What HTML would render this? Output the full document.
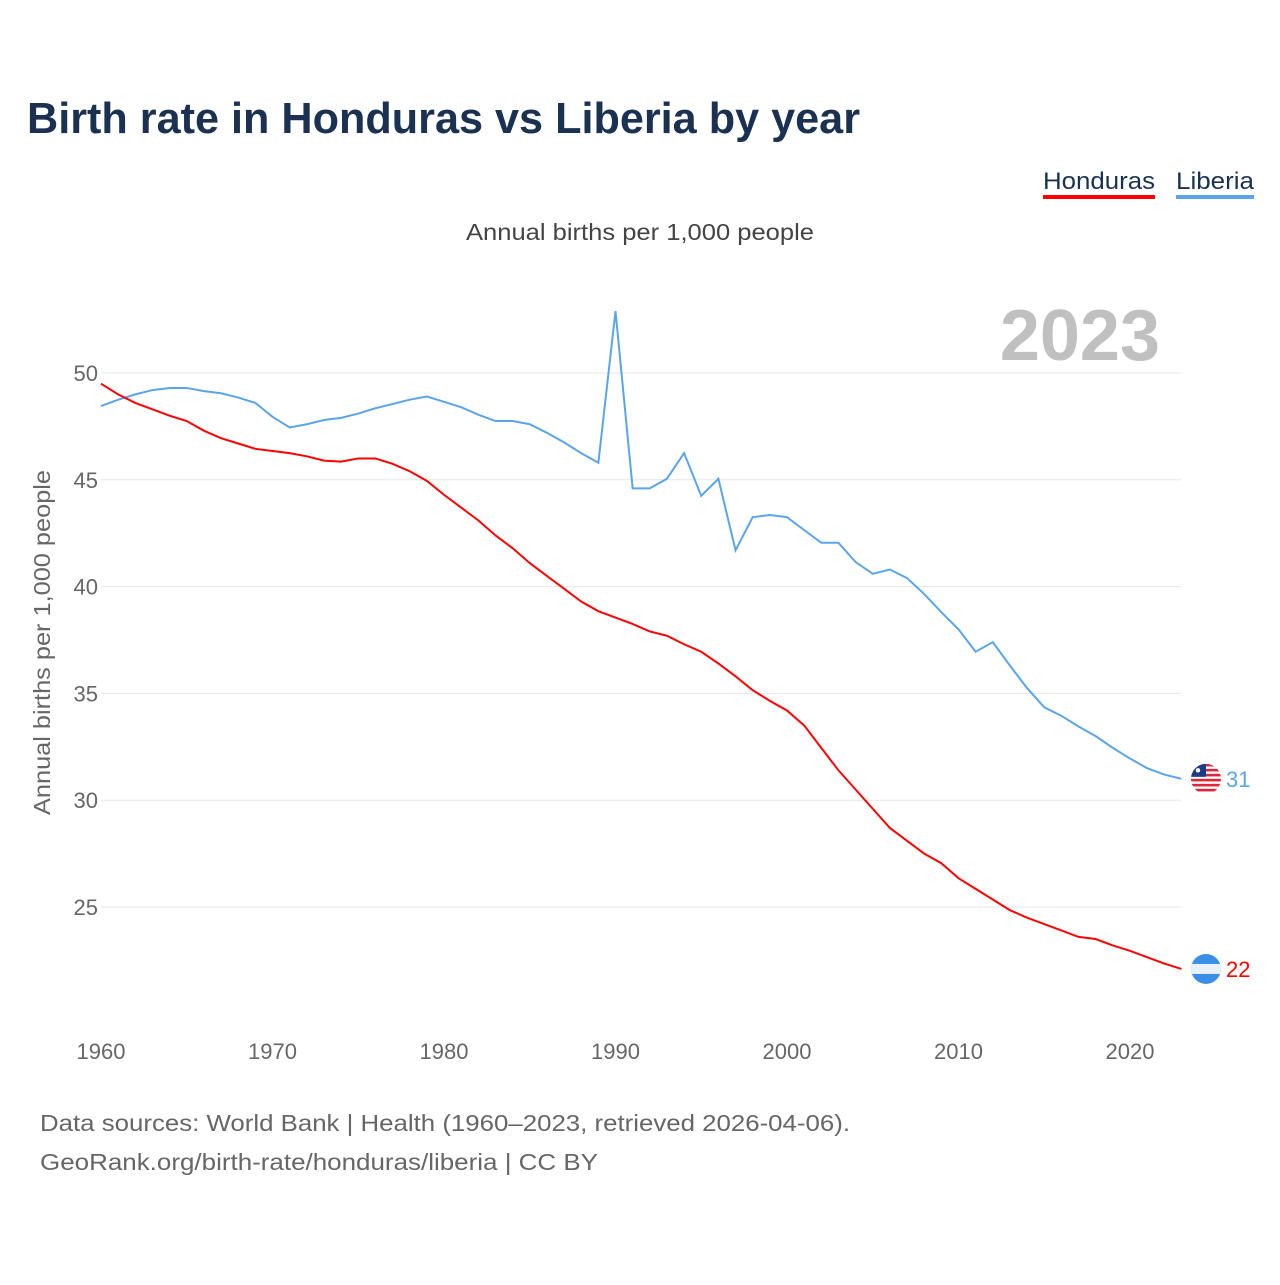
<!DOCTYPE html>
<html><head><meta charset="utf-8"><style>
body{margin:0;background:#fff;font-family:"Liberation Sans",sans-serif}
svg text{font-family:"Liberation Sans",sans-serif}
</style></head><body>
<svg id="chart" width="1280" height="1280" xmlns="http://www.w3.org/2000/svg">
<defs><clipPath id="clipL"><circle cx="1206" cy="0" r="15" id="clipLc"/></clipPath><clipPath id="clipH"><circle cx="1206" cy="0" r="15" id="clipHc"/></clipPath></defs>
<text x="27" y="133" font-size="44" font-weight="bold" fill="#1a3152" textLength="833" lengthAdjust="spacingAndGlyphs">Birth rate in Honduras vs Liberia by year</text>
<g><text x="1043" y="189" font-size="24" fill="#1a3152" textLength="112" lengthAdjust="spacingAndGlyphs">Honduras</text><rect x="1043" y="195" width="112" height="4" fill="#ff0000"/></g>
<g><text x="1176" y="189" font-size="24" fill="#1a3152" textLength="78" lengthAdjust="spacingAndGlyphs">Liberia</text><rect x="1176" y="195" width="78" height="4" fill="#5aa5ea"/></g>
<text x="466" y="240" font-size="23" fill="#444" textLength="348" lengthAdjust="spacingAndGlyphs">Annual births per 1,000 people</text>
<text x="1160" y="360" font-size="72" font-weight="bold" fill="#c0c0c0" text-anchor="end">2023</text>
<text transform="translate(50,815) rotate(-90)" font-size="23" fill="#666" textLength="345" lengthAdjust="spacingAndGlyphs">Annual births per 1,000 people</text>
<g id="grid"></g><g id="series"></g>
<text x="40" y="1131" font-size="23" fill="#666" textLength="810" lengthAdjust="spacingAndGlyphs">Data sources: World Bank | Health (1960–2023, retrieved 2026-04-06).</text>
<text x="40" y="1170" font-size="23" fill="#666" textLength="558" lengthAdjust="spacingAndGlyphs">GeoRank.org/birth-rate/honduras/liberia | CC BY</text>
</svg>
<script>
const years=[];for(let y=1960;y<=2023;y++)years.push(y);
const honduras=[49.5,49.0,48.6,48.3,48.0,47.75,47.3,46.95,46.7,46.45,46.35,46.25,46.1,45.9,45.85,46.0,46.0,45.75,45.4,44.95,44.3,43.7,43.1,42.4,41.8,41.1,40.5,39.9,39.3,38.85,38.55,38.25,37.9,37.7,37.3,36.95,36.4,35.8,35.15,34.65,34.2,33.5,32.45,31.4,30.5,29.6,28.7,28.1,27.5,27.05,26.35,25.85,25.35,24.85,24.5,24.2,23.9,23.6,23.5,23.2,22.95,22.65,22.35,22.1];
const liberia=[48.45,48.75,49.0,49.2,49.3,49.3,49.15,49.05,48.85,48.6,47.95,47.45,47.6,47.8,47.9,48.1,48.35,48.55,48.75,48.9,48.65,48.4,48.05,47.75,47.75,47.6,47.2,46.75,46.25,45.8,52.9,44.6,44.6,45.05,46.25,44.25,45.05,41.7,43.25,43.35,43.25,42.65,42.05,42.05,41.15,40.6,40.8,40.4,39.65,38.8,38.0,36.95,37.4,36.3,35.25,34.35,33.95,33.45,33.0,32.45,31.95,31.5,31.2,31.0];
const yTicks=[25,30,35,40,45,50];
const xTicks=[1960,1970,1980,1990,2000,2010,2020];
const X=y=>101+(y-1960)*(1029/60);
const Y=v=>907-(v-25)*(534/25);
const NS="http://www.w3.org/2000/svg";
function mk(t,a,p){const e=document.createElementNS(NS,t);for(const k in a)e.setAttribute(k,a[k]);p.appendChild(e);return e;}
const grid=document.getElementById('grid'),ser=document.getElementById('series');
yTicks.forEach(v=>{
 const l=mk('line',{x1:101,x2:1181,y1:Y(v),y2:Y(v),stroke:'#e6e6e6','stroke-width':1},grid);
 
 
 const t=mk('text',{x:98,y:Y(v)+8,'font-size':22,fill:'#666','text-anchor':'end'},grid);t.textContent=v;
 
 
});
xTicks.forEach(v=>{
 const t=mk('text',{x:X(v),y:1059,'font-size':22,fill:'#666','text-anchor':'middle'},grid);t.textContent=v;
 
 
});
function line(data,color,name){
 const p=mk('polyline',{points:data.map((v,i)=>X(years[i])+','+Y(v)).join(' '),fill:'none',stroke:color,'stroke-width':2},ser);
 
 
 const last=data[data.length-1],cx=1206,cy=Y(last);
 const g=mk('g',{},ser);
 
 
 if(name==='liberia'){
  document.getElementById('clipLc').setAttribute('cy',cy);
  g.setAttribute('clip-path','url(#clipL)');
  mk('rect',{x:cx-15,y:cy-15,width:30,height:30,fill:'#fff'},g);
  for(let k=0;k<6;k++)mk('rect',{x:cx-15,y:cy-15+k*5,width:30,height:2.6,fill:'#e0243a'},g);
  mk('rect',{x:cx-15,y:cy-15,width:15,height:13,fill:'#1b3b8a'},g);
  mk('circle',{cx:cx-8,cy:cy-8.5,r:2.2,fill:'#fff'},g);
 } else {
  document.getElementById('clipHc').setAttribute('cy',cy);
  g.setAttribute('clip-path','url(#clipH)');
  mk('rect',{x:cx-15,y:cy-15,width:30,height:30,fill:'#3a8ee6'},g);
  mk('rect',{x:cx-15,y:cy-5,width:30,height:10,fill:'#e8f0fa'},g);
 }
 const t=mk('text',{x:1226,y:cy+8,'font-size':22,fill:color},ser);t.textContent=Math.round(last);
 
 
}
line(liberia,'#5aa5ea','liberia');
line(honduras,'#ff0000','honduras');
</script>
</body></html>
